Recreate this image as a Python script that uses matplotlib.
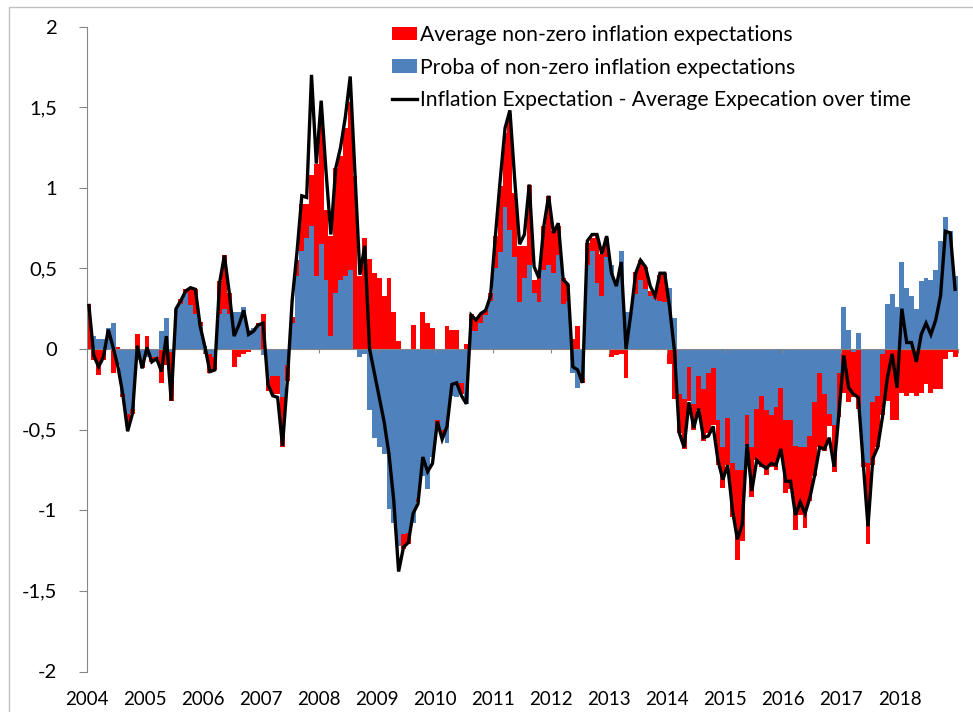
import numpy as np
import matplotlib
matplotlib.use("Agg")
import matplotlib.pyplot as plt
from matplotlib.patches import Rectangle

# ---------------- data (monthly, Jan 2004 - Dec 2018) ----------------
years = [str(y) for y in range(2004, 2019)]

proba_nonzero = [
    0.00, 0.08, 0.06, 0.06, 0.13, 0.16, -0.10, -0.28, -0.40, -0.37,
    -0.07, -0.07, -0.05, -0.05, -0.05, 0.11, 0.19, -0.02, 0.25, 0.28,
    0.35, 0.27, 0.22, 0.14, 0.02, -0.03, -0.05, 0.22, 0.25, 0.22,
    0.23, 0.23, 0.26, 0.12, 0.13, 0.14, -0.04, -0.19, -0.17, -0.17,
    -0.30, -0.10, 0.16, 0.45, 0.61, 0.69, 0.76, 0.45, 0.65, 0.43,
    0.08, 0.35, 0.43, 0.45, 0.49, 0.00, -0.05, -0.03, -0.38, -0.55,
    -0.61, -0.65, -0.99, -1.08, -1.22, -1.15, -1.14, -1.08, -0.93, -0.79,
    -0.87, -0.67, -0.44, -0.50, -0.58, -0.29, -0.30, -0.21, -0.34, 0.11,
    0.11, 0.16, 0.21, 0.30, 0.50, 0.60, 0.88, 0.74, 0.57, 0.29,
    0.44, 0.52, 0.35, 0.29, 0.49, 0.52, 0.47, 0.58, 0.28, 0.30,
    -0.15, -0.24, -0.18, 0.52, 0.61, 0.41, 0.33, 0.57, 0.52, 0.42,
    0.61, 0.23, 0.23, 0.34, 0.43, 0.37, 0.33, 0.31, 0.30, 0.29,
    0.38, 0.19, -0.28, -0.31, -0.11, -0.34, -0.17, -0.25, -0.15, -0.12,
    -0.44, -0.61, -0.43, -0.71, -0.75, -0.75, -0.41, -0.61, -0.37, -0.29,
    -0.38, -0.41, -0.36, -0.24, -0.44, -0.44, -0.60, -0.61, -0.61, -0.54,
    -0.33, -0.15, -0.28, -0.40, -0.47, -0.15, 0.26, 0.12, -0.02, 0.10,
    -0.70, -0.71, -0.33, -0.29, -0.03, 0.28, 0.34, 0.26, 0.54, 0.38,
    0.33, 0.25, 0.42, 0.44, 0.43, 0.49, 0.67, 0.82, 0.73, 0.45,
]

avg_nonzero = [
    0.28, -0.07, -0.16, -0.07, 0.00, -0.15, 0.01, -0.02, -0.05, -0.03,
    0.09, -0.05, 0.08, -0.03, -0.01, -0.21, -0.10, -0.30, 0.00, 0.03,
    0.02, 0.11, 0.15, 0.03, -0.03, -0.12, -0.08, 0.20, 0.33, 0.13,
    -0.11, -0.05, -0.03, -0.02, 0.00, 0.02, 0.22, -0.07, -0.11, -0.11,
    -0.31, -0.10, 0.04, 0.10, 0.29, 0.21, 0.32, 0.70, 0.77, 0.43,
    0.62, 0.77, 0.77, 0.92, 1.04, 1.07, 0.45, 0.69, 0.56, 0.47,
    0.44, 0.33, 0.44, 0.23, 0.05, -0.09, -0.07, 0.15, -0.02, 0.23,
    0.16, 0.13, -0.06, -0.03, 0.14, 0.12, 0.12, -0.07, 0.03, 0.11,
    0.07, 0.06, 0.03, 0.05, 0.20, 0.41, 0.46, 0.72, 0.40, 0.35,
    0.20, 0.50, 0.08, 0.20, 0.27, 0.43, 0.26, 0.18, 0.16, 0.10,
    0.06, 0.14, -0.03, 0.14, 0.08, 0.29, 0.26, 0.12, -0.05, -0.04,
    -0.03, -0.18, 0.00, 0.14, 0.12, 0.14, 0.03, 0.02, 0.16, 0.18,
    -0.09, -0.31, -0.24, -0.31, -0.21, -0.16, -0.21, -0.32, -0.37, -0.35,
    -0.28, -0.25, -0.29, -0.33, -0.56, -0.44, -0.19, -0.31, -0.32, -0.44,
    -0.40, -0.32, -0.39, -0.41, -0.45, -0.43, -0.52, -0.42, -0.50, -0.40,
    -0.46, -0.46, -0.35, -0.08, -0.29, -0.27, -0.27, -0.33, -0.28, -0.37,
    -0.03, -0.50, -0.39, -0.32, -0.38, -0.32, -0.44, -0.44, -0.27, -0.29,
    -0.27, -0.29, -0.27, -0.22, -0.27, -0.25, -0.25, -0.06, -0.02, -0.05,
]

infl_expectation = [
    0.27, -0.04, -0.11, -0.05, 0.12, 0.01, -0.11, -0.28, -0.51, -0.40,
    0.02, -0.12, 0.01, -0.08, -0.06, -0.14, 0.08, -0.32, 0.25, 0.30,
    0.36, 0.38, 0.37, 0.14, 0.01, -0.14, -0.13, 0.41, 0.58, 0.35,
    0.08, 0.15, 0.24, 0.09, 0.11, 0.15, 0.16, -0.22, -0.29, -0.30,
    -0.60, -0.20, 0.30, 0.60, 0.95, 0.94, 1.70, 1.15, 1.54, 1.10,
    0.71, 1.12, 1.25, 1.44, 1.69, 1.07, 0.46, 0.64, 0.00, -0.15,
    -0.30, -0.45, -0.65, -0.94, -1.38, -1.23, -1.20, -1.02, -0.96, -0.67,
    -0.76, -0.71, -0.45, -0.56, -0.48, -0.22, -0.21, -0.29, -0.34, 0.21,
    0.18, 0.22, 0.24, 0.33, 0.70, 1.05, 1.37, 1.48, 1.05, 0.65,
    0.71, 1.02, 0.51, 0.44, 0.76, 0.95, 0.72, 0.78, 0.43, 0.40,
    -0.11, -0.13, -0.21, 0.67, 0.71, 0.71, 0.59, 0.70, 0.47, 0.39,
    0.54, 0.00, 0.22, 0.47, 0.55, 0.51, 0.39, 0.33, 0.47, 0.47,
    0.26, -0.01, -0.52, -0.61, -0.33, -0.49, -0.37, -0.55, -0.54, -0.48,
    -0.69, -0.81, -0.72, -1.00, -1.18, -1.09, -0.59, -0.88, -0.69, -0.72,
    -0.74, -0.71, -0.72, -0.62, -0.82, -0.82, -1.03, -0.95, -1.02, -0.92,
    -0.78, -0.61, -0.62, -0.55, -0.73, -0.40, -0.04, -0.24, -0.28, -0.30,
    -0.70, -1.10, -0.68, -0.61, -0.42, -0.18, -0.03, -0.24, 0.25, 0.04,
    0.04, -0.08, 0.09, 0.16, 0.09, 0.18, 0.33, 0.73, 0.72, 0.37,
]

label_red = "Average non-zero inflation expectations"
label_blue = "Proba of non-zero inflation expectations"
label_line = "Inflation Expectation - Average Expecation over time"

# ---------------- figure ----------------
plt.rcParams['font.family'] = ['Lato', 'DejaVu Sans']
W, H = 973, 712
fig = plt.figure(figsize=(W / 100, H / 100), dpi=100)
ax = fig.add_axes([86.5 / W, 1 - 671.5 / H, 871 / W, 645 / H])

blue = np.array(proba_nonzero)
red = np.array(avg_nonzero)
n = len(blue)
x = np.arange(n) + 0.5

# Excel-style stacking: same sign stacks on blue, opposite sign starts at 0
red_bottom = np.where(np.sign(red) == np.sign(blue), blue, 0.0)

b_blue = ax.bar(x, blue, width=1.0, color='#4F81BD', linewidth=0,
                label=label_blue, zorder=1)
b_red = ax.bar(x, red, bottom=red_bottom, width=1.0, color='#FF0000',
               linewidth=0, label=label_red, zorder=1)
ln, = ax.plot(x, infl_expectation, color='black', lw=2.4,
              solid_joinstyle='miter', label=label_line, zorder=4)

ax.set_xlim(0, n)
ax.set_ylim(-2, 2)

axis_gray = '#868686'
for s in ['top', 'right']:
    ax.spines[s].set_visible(False)
ax.spines['left'].set_color(axis_gray)
ax.spines['bottom'].set_color(axis_gray)
ax.spines['bottom'].set_position(('data', 0))
ax.spines['bottom'].set_zorder(3)

yt = np.arange(-2, 2.01, 0.5)
ax.set_yticks(yt)
ax.set_yticklabels([('%g' % v).replace('.', ',') for v in yt])
ax.tick_params(axis='y', direction='out', length=6, color=axis_gray,
               labelsize=14.5, pad=15, labelcolor='black')

ax.set_xticks(np.arange(0, n + 1, 12))
ax.tick_params(axis='x', direction='out', length=3, color=axis_gray,
               labelbottom=False)

sec = ax.secondary_xaxis('bottom')
sec.set_xticks(np.arange(0, len(years) * 12, 12))
sec.set_xticklabels(years)
sec.tick_params(axis='x', length=0, labelsize=13.5, pad=14)
sec.spines['bottom'].set_visible(False)

leg = ax.legend(handles=[b_red, b_blue, ln],
                loc='upper left', bbox_to_anchor=(392 / W, 1 - 25 / H),
                bbox_transform=fig.transFigure, frameon=False,
                fontsize=15.2, handlelength=1.18, handleheight=0.62,
                handletextpad=0.15, labelspacing=0.6, borderpad=0,
                borderaxespad=0)

# chart area border (Excel)
fig.patches.append(Rectangle((9 / W, -0.1), 1.2, 1.1 - 7 / H,
                             transform=fig.transFigure, fill=False,
                             edgecolor='#bfbfbf', lw=1.0))

fig.savefig('out.png', dpi=100)
